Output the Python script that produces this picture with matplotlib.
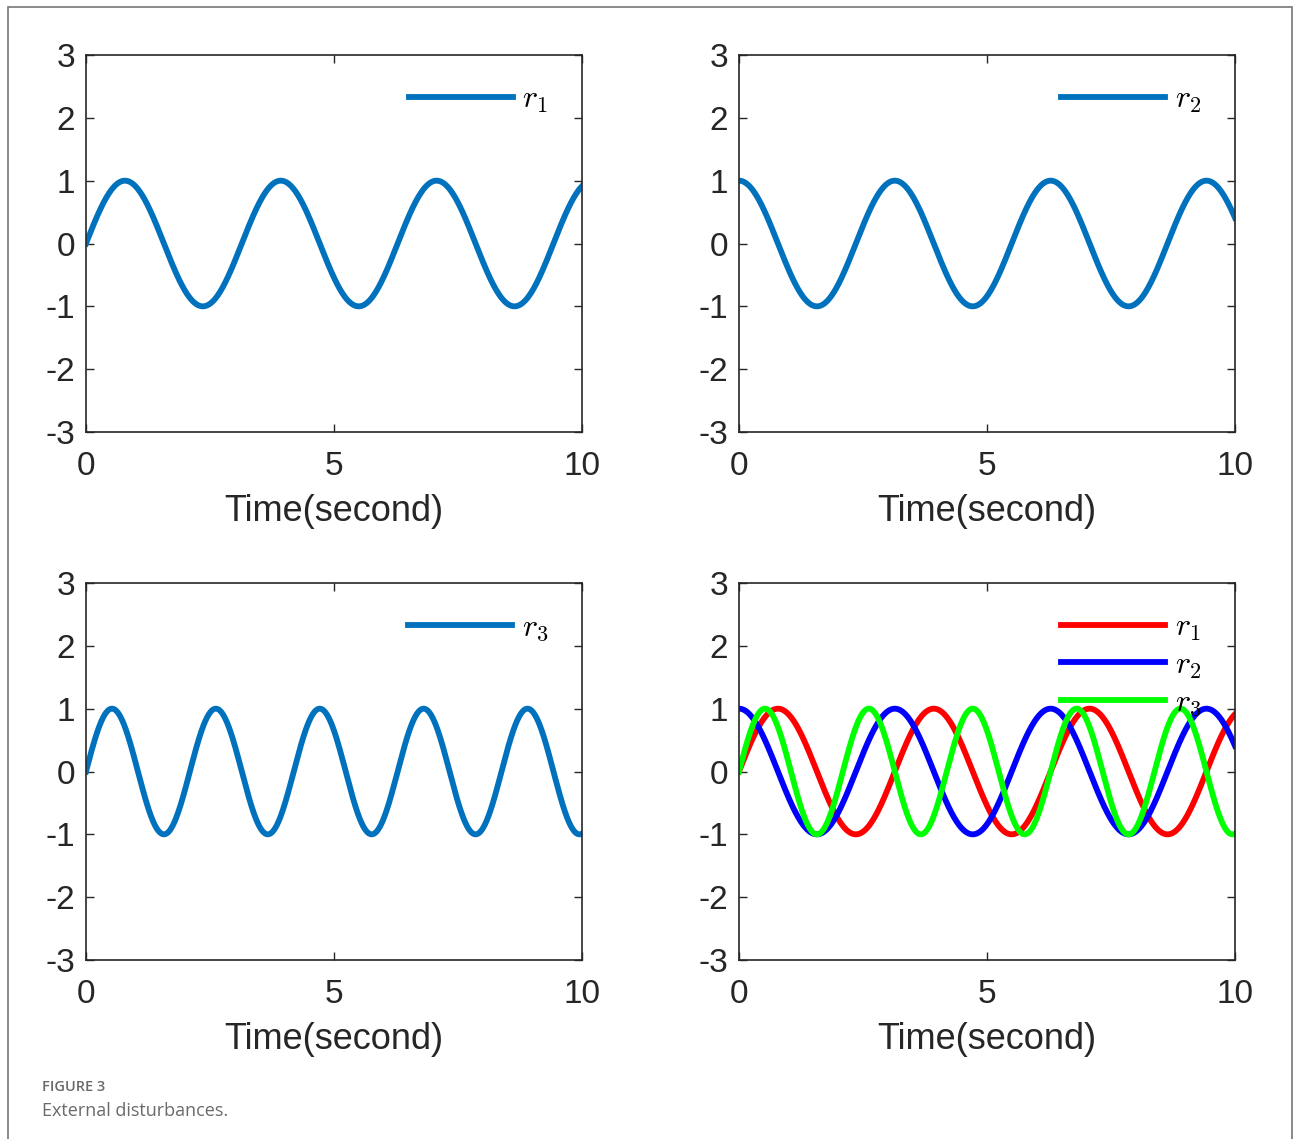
import numpy as np
import matplotlib
matplotlib.use("Agg")
import matplotlib.pyplot as plt
from matplotlib.patches import Rectangle

# signal parameters: r = amp * sin(omega * t + phase)
names = ["r_1", "r_2", "r_3"]
amps = [1.0, 1.0, 1.0]
omegas = [2.0, 2.0, 3.0]
phases = [0.0, np.pi / 2, 0.0]
t_end = 10.0

single_color = "#0072BD"
combo_colors = ["#FF0000", "#0000FF", "#00FF00"]

yticks = [-3, -2, -1, 0, 1, 2, 3]
xticks = [0, 5, 10]

plt.rcParams["font.family"] = ["Liberation Sans", "DejaVu Sans"]
plt.rcParams["mathtext.fontset"] = "cm"
plt.rcParams["axes.unicode_minus"] = False

W, H = 1293, 1139
fig = plt.figure(figsize=(W / 100, H / 100), dpi=100)

t = np.linspace(0, t_end, 2001)
signals = [a * np.sin(w * t + p) for a, w, p in zip(amps, omegas, phases)]

lefts = [86 / W, 739 / W]
bottoms = [1 - 432 / H, 1 - 960 / H]
aw, ah = 496 / W, 377 / H

leg_kw = dict(loc="upper right", bbox_to_anchor=(0.932, 0.921), frameon=False,
              fontsize=23, handlelength=3.25, handletextpad=0.3,
              borderpad=0, borderaxespad=0, labelspacing=0.22)


def style(ax):
    ax.set_xlim(0, t_end)
    ax.set_ylim(-3, 3)
    ax.set_xticks(xticks)
    ax.set_yticks(yticks)
    ax.tick_params(direction="in", top=True, right=True, length=6, width=1,
                   labelsize=24, color="#262626", labelcolor="#262626")
    ax.tick_params(axis="x", pad=14)
    ax.tick_params(axis="y", pad=8)
    for s in ax.spines.values():
        s.set_color("#262626")
        s.set_linewidth(1.2)
    ax.set_xlabel("Time(second)", fontsize=26, color="#262626", labelpad=8)


positions = [(lefts[0], bottoms[0]), (lefts[1], bottoms[0]), (lefts[0], bottoms[1])]
for i, (x0, y0) in enumerate(positions):
    ax = fig.add_axes([x0, y0, aw, ah])
    ax.plot(t, signals[i], color=single_color, lw=4.2, label=f"${names[i]}$")
    style(ax)
    ax.legend(**leg_kw)

ax = fig.add_axes([lefts[1], bottoms[1], aw, ah])
for sig, c, n in zip(signals, combo_colors, names):
    ax.plot(t, sig, color=c, lw=4.2, label=f"${n}$")
style(ax)
ax.legend(**leg_kw)

# outer frame and caption
fig.patches.append(Rectangle((8 / W, -0.05), (1292 - 8) / W, 1.05 - 7 / H,
                             transform=fig.transFigure, fill=False,
                             edgecolor="#777777", lw=1.2))
fig.text(42 / W, 1 - 1087 / H, "FIGURE 3", fontsize=10.5, fontweight="semibold",
         color="#6a6a6a", family=["Open Sans", "DejaVu Sans"], va="center")
fig.text(42 / W, 1 - 1111 / H, "External disturbances.", fontsize=13,
         color="#6a6a6a", family=["Open Sans", "DejaVu Sans"], va="center")

fig.savefig("out.png", dpi=100)
